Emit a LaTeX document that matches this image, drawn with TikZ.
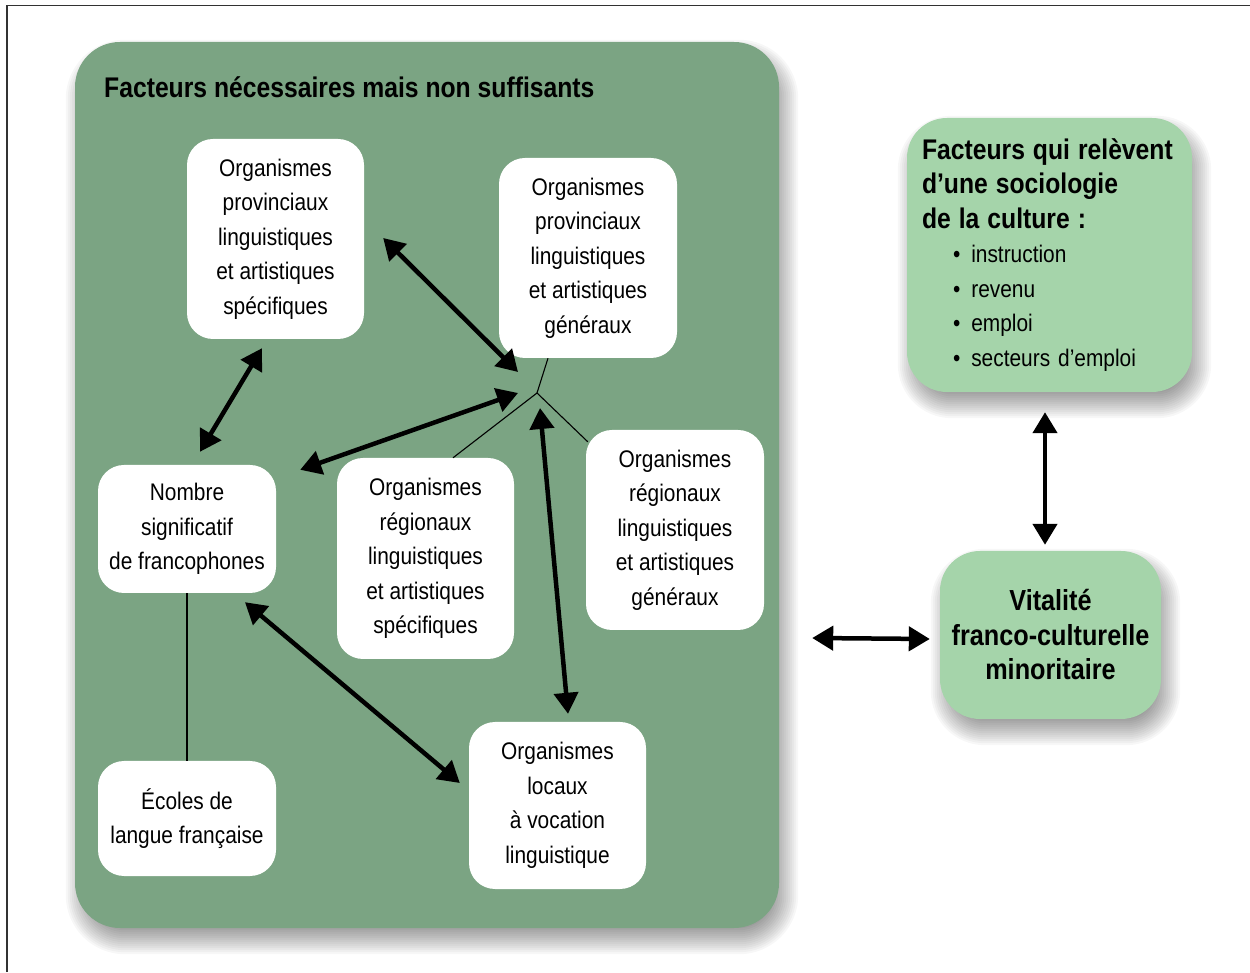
\documentclass[tikz,border=0pt]{standalone}
\usepackage{fontspec}
\setmainfont[FakeStretch=0.87]{Liberation Sans}
\usetikzlibrary{arrows.meta,backgrounds,calc}
\definecolor{biggreen}{RGB}{123,164,131}
\definecolor{lightgreen}{RGB}{165,212,170}
\definecolor{framegray}{RGB}{50,50,50}
\newcommand\dropshadow[2]{%
  \begin{scope}[on background layer]
  \foreach \d in {-12,-10,...,14}{%
    \pgfmathsetmacro\rr{#2+\d}%
    \pgfmathsetmacro\ax{5-\d}\pgfmathsetmacro\ay{-12-\d}%
    \pgfmathsetmacro\bx{5+\d}\pgfmathsetmacro\by{-12+\d}%
    \fill[black,opacity=0.032,rounded corners=\rr pt]
      ([shift={(\ax,\ay)}]#1.south west) rectangle ([shift={(\bx,\by)}]#1.north east);
  }
  \end{scope}}
\begin{document}
\begin{tikzpicture}[x=1pt,y=1pt,
  wbox/.style={fill=white, rounded corners=26pt, align=center, inner sep=0pt,
    font=\fontsize{24}{34.5}\selectfont},
  dbl/.style={line width=4.5pt, {Triangle[length=21pt,width=24pt]}-{Triangle[length=21pt,width=24pt]}},
  hair/.style={line width=1.1pt},
]
\useasboundingbox (0,0) rectangle (1250,972);
\begin{scope}[on background layer]
  \fill[white] (0,0) rectangle (1250,972);
\end{scope}
\draw[framegray, line width=1.5pt] (7,0) -- (7,966.5) -- (1250,966.5);

% big container
\node[fill=biggreen, rounded corners=45pt, minimum width=704pt, minimum height=886pt,
  inner sep=0pt] (big) at (427,487) {};
\node[anchor=base west, inner sep=0pt, font=\fontsize{28.4}{34.5}\selectfont\bfseries]
  (title) at (104,874) {Facteurs nécessaires mais non suffisants};

% white boxes
\node[wbox, minimum width=177pt, minimum height=200pt] (A) at (275.5,733)
  {Organismes\\provinciaux\\linguistiques\\et artistiques\\spécifiques};
\node[wbox, minimum width=178pt, minimum height=200pt] (B) at (588,714)
  {Organismes\\provinciaux\\linguistiques\\et artistiques\\généraux};
\node[wbox, minimum width=178pt, minimum height=128pt] (C) at (187,443)
  {Nombre\\significatif\\de francophones};
\node[wbox, minimum width=177pt, minimum height=201pt] (D) at (425.5,413.5)
  {Organismes\\régionaux\\linguistiques\\et artistiques\\spécifiques};
\node[wbox, minimum width=178pt, minimum height=200pt] (E) at (675,442)
  {Organismes\\régionaux\\linguistiques\\et artistiques\\généraux};
\node[wbox, minimum width=178pt, minimum height=115pt] (F) at (187,153.5)
  {Écoles de\\langue française};
\node[wbox, minimum width=177pt, minimum height=167pt] (G) at (557.5,166.5)
  {Organismes\\locaux\\à vocation\\linguistique};

% right boxes
\node[fill=lightgreen, rounded corners=40pt, minimum width=285pt, minimum height=274pt,
  text width=262pt, align=left, inner xsep=11.5pt, inner ysep=0pt,
  font=\fontsize{24}{34.5}\selectfont] (H) at (1049.5,717)
  {\leftskip=3.5pt
   \fontsize{28.4}{34.5}\selectfont\bfseries Facteurs qui relèvent\\
   d’une sociologie\\
   de la culture :\\
   \fontsize{24}{34.5}\selectfont\mdseries
   \hspace*{31pt}\textbullet\hspace{11pt}instruction\\
   \hspace*{31pt}\textbullet\hspace{11pt}revenu\\
   \hspace*{31pt}\textbullet\hspace{11pt}emploi\\
   \hspace*{31pt}\textbullet\hspace{11pt}secteurs d’emploi\par};
\node[fill=lightgreen, rounded corners=40pt, minimum width=221pt, minimum height=168pt,
  align=center, inner sep=0pt, font=\fontsize{29}{34.5}\selectfont\bfseries]
  (I) at (1050.5,337) {Vitalité\\franco-culturelle\\minoritaire};

% shadows
\dropshadow{big}{45}
\dropshadow{H}{40}
\dropshadow{I}{40}

% junction and thin lines
\coordinate (J) at (537,579);
\draw[hair] (J) -- ([xshift=-40pt]B.south);
\draw[hair] (J) -- ([xshift=27.5pt]D.north);
\draw[hair] (J) -- ([shift={(2,-12)}]E.north west);
\draw[hair] (C.south) -- (F.north);

% arrows
\draw[dbl] ([shift={(19,1)}]A.east) -- ([shift={(-19,21)}]J);
\draw[dbl] ([shift={(-13.5,-9)}]A.south) -- ([shift={(13,13)}]C.north);
\draw[dbl] ([shift={(24,-5)}]C.north east) -- ([shift={(-19,0)}]J);
\draw[dbl] ([shift={(3,-15)}]J) -- ([shift={(10.5,8)}]G.north);
\draw[dbl] ([shift={(58,-9)}]C.south) -- ([shift={(-9,22.5)}]G.west);
\draw[dbl] ([shift={(-4.5,-20)}]H.south) -- ([shift={(-5.5,6)}]I.north);
\draw[dbl] ([shift={(33,-153)}]big.east) -- ([shift={(-10,-4)}]I.west);
\end{tikzpicture}
\end{document}
